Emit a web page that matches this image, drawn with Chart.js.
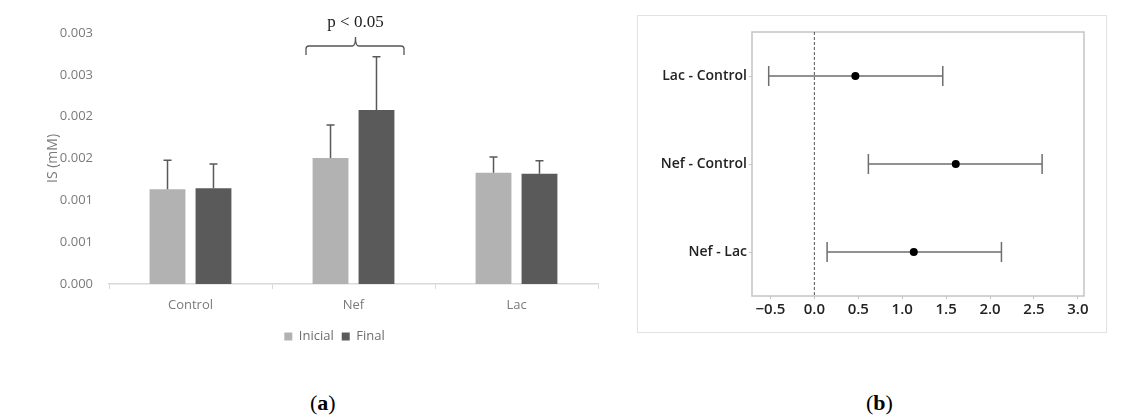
<!DOCTYPE html>
<html>
<head>
<meta charset="utf-8">
<script src="https://cdn.jsdelivr.net/npm/chart.js@4.4.1/dist/chart.umd.min.js"></script>
<style>
  html, body { margin: 0; padding: 0; background: #fff; width: 1130px; height: 417px; overflow: hidden; }
  #left { position: absolute; left: 0; top: 0; width: 610px; height: 360px; }
  #rightBox { position: absolute; left: 637px; top: 15px; width: 468px; height: 316px; border: 1px solid #e2e2e2; }
  #right { position: absolute; left: 0; top: 0; width: 468px; height: 316px; }
  .cap { position: absolute; top: 390px; font-family: "Liberation Serif", "DejaVu Serif", serif; font-size: 22px; line-height: 25px; color: #000; }
</style>
</head>
<body>
<canvas id="left" width="610" height="360"></canvas>
<div id="rightBox"><canvas id="right" width="468" height="316"></canvas></div>
<div class="cap" style="left:310px;">(<b>a</b>)</div>
<div class="cap" style="left:866px;">(<b>b</b>)</div>
<script>
// ---------- Data (a) ----------
const categories = ['Control', 'Nef', 'Lac'];
const inicialValues = [0.001132, 0.001506, 0.001331];
const inicialErrors = [0.000346, 0.000394, 0.000187];
const finalValues = [0.001144, 0.002080, 0.001319];
const finalErrors = [0.000290, 0.000637, 0.000155];
const yTickLabels = ['0.000', '0.001', '0.001', '0.002', '0.002', '0.003', '0.003'];
const significanceText = 'p < 0.05';

// ---------- Data (b) ----------
const comparisons = ['Lac - Control', 'Nef - Control', 'Nef - Lac'];
const diffMeans = [0.467, 1.610, 1.132];
const diffLows = [-0.52, 0.615, 0.145];
const diffHighs = [1.462, 2.593, 2.130];
const xTickValues = [-0.5, 0, 0.5, 1, 1.5, 2, 2.5, 3];

const errorsByDataset = [inicialErrors, finalErrors];

const errorBarPlugin = {
  id: 'errorBars',
  afterDatasetsDraw(chart) {
    const ctx = chart.ctx;
    const ys = chart.scales.y;
    ctx.save();
    ctx.strokeStyle = '#595959';
    ctx.lineWidth = 1.5;
    chart.data.datasets.forEach((ds, di) => {
      const meta = chart.getDatasetMeta(di);
      meta.data.forEach((bar, i) => {
        const v = ds.data[i];
        const e = errorsByDataset[di][i];
        const yTop = ys.getPixelForValue(v + e);
        ctx.beginPath();
        ctx.moveTo(bar.x, bar.y);
        ctx.lineTo(bar.x, yTop);
        ctx.moveTo(bar.x - 4, yTop);
        ctx.lineTo(bar.x + 4, yTop);
        ctx.stroke();
      });
    });
    ctx.restore();
  },
  afterDraw(chart) {
    const ctx = chart.ctx;
    const xs = chart.scales.x;
    const top = chart.chartArea.top;
    const cx = xs.getPixelForValue(1);
    const l = cx - 47.5, r = cx + 50.5, m = cx + 2;
    const yH = top + 13, yEnd = top + 22, yPeak = top + 4;
    ctx.save();
    ctx.strokeStyle = '#555';
    ctx.lineWidth = 1.3;
    ctx.beginPath();
    ctx.moveTo(l, yEnd);
    ctx.lineTo(l, yH + 3);
    ctx.quadraticCurveTo(l, yH, l + 3, yH);
    ctx.lineTo(m - 3, yH);
    ctx.quadraticCurveTo(m, yH, m, yPeak);
    ctx.quadraticCurveTo(m, yH, m + 3, yH);
    ctx.lineTo(r - 3, yH);
    ctx.quadraticCurveTo(r, yH, r, yH + 3);
    ctx.lineTo(r, yEnd);
    ctx.stroke();
    ctx.fillStyle = '#222';
    ctx.font = '17px "Liberation Serif", "DejaVu Serif", serif';
    ctx.textAlign = 'center';
    ctx.textBaseline = 'middle';
    ctx.fillText(significanceText, m, top - 10);
    ctx.restore();
  },
  afterLayout(chart) {
    if (chart.legend) {
      chart.legend.left -= 19;
      chart.legend.right -= 19;
    }
  }
};

new Chart(document.getElementById('left'), {
  type: 'bar',
  data: {
    labels: categories,
    datasets: [
      { label: 'Inicial', data: inicialValues, backgroundColor: '#b2b2b2', categoryPercentage: 0.564, barPercentage: 0.78 },
      { label: 'Final', data: finalValues, backgroundColor: '#5a5a5a', categoryPercentage: 0.564, barPercentage: 0.78 }
    ]
  },
  options: {
    responsive: false,
    animation: false,
    devicePixelRatio: 1,
    layout: { padding: { top: 33, right: 12, left: 0, bottom: 7 } },
    plugins: {
      tooltip: { enabled: false },
      legend: {
        position: 'bottom',
        fullSize: false,
        labels: {
          boxWidth: 8, boxHeight: 8, padding: 8,
          color: '#6e6e6e',
          font: { family: '"Open Sans", sans-serif', size: 13 }
        }
      }
    },
    scales: {
      x: {
        grid: { display: true, drawOnChartArea: false, drawTicks: true, tickLength: 5, color: '#d9d9d9', offset: true },
        border: { display: true, color: '#d9d9d9', width: 1.5 },
        ticks: { color: '#7a7a7a', padding: 8, font: { family: '"Open Sans", sans-serif', size: 13 } },
        afterFit(s) { s.height = 38; }
      },
      y: {
        min: 0, max: 0.003,
        grid: { display: false, drawTicks: false },
        border: { display: false },
        ticks: {
          stepSize: 0.0005,
          padding: 16,
          color: '#7a7a7a',
          font: { family: '"Open Sans", sans-serif', size: 13 },
          callback: (v, i) => yTickLabels[i]
        },
        title: {
          display: true, text: 'IS (mM)', color: '#7a7a7a',
          font: { family: '"Open Sans", sans-serif', size: 14 },
          padding: { top: 45, bottom: 0 }
        },
        afterFit(s) { s.width = 109; }
      }
    }
  },
  plugins: [errorBarPlugin]
});

// ---------- (b) interval plot ----------
const intervalPlugin = {
  id: 'intervals',
  beforeDatasetsDraw(chart) {
    const ctx = chart.ctx;
    const { left, right, top, bottom } = chart.chartArea;
    const xs = chart.scales.x, ys = chart.scales.y;
    ctx.save();
    ctx.strokeStyle = '#c4c4c4';
    ctx.lineWidth = 1.5;
    ctx.strokeRect(left, top, right - left, bottom - top);
    const x0 = xs.getPixelForValue(0);
    ctx.strokeStyle = '#555';
    ctx.lineWidth = 1;
    ctx.setLineDash([3, 2]);
    ctx.beginPath();
    ctx.moveTo(x0, top);
    ctx.lineTo(x0, bottom);
    ctx.stroke();
    ctx.setLineDash([]);
    ctx.strokeStyle = '#6e6e6e';
    ctx.lineWidth = 1.5;
    comparisons.forEach((c, i) => {
      const y = ys.getPixelForValue(i);
      const xl = xs.getPixelForValue(diffLows[i]);
      const xh = xs.getPixelForValue(diffHighs[i]);
      ctx.beginPath();
      ctx.moveTo(xl, y); ctx.lineTo(xh, y);
      ctx.moveTo(xl, y - 10); ctx.lineTo(xl, y + 10);
      ctx.moveTo(xh, y - 10); ctx.lineTo(xh, y + 10);
      ctx.stroke();
    });
    ctx.restore();
  }
};

new Chart(document.getElementById('right'), {
  type: 'scatter',
  data: {
    labels: comparisons,
    datasets: [{
      data: comparisons.map((c, i) => ({ x: diffMeans[i], y: c })),
      backgroundColor: '#000', borderColor: '#000', pointRadius: 4, pointBorderWidth: 0
    }]
  },
  options: {
    responsive: false,
    animation: false,
    devicePixelRatio: 1,
    layout: { padding: { top: 16, right: 22, left: 0, bottom: 0 } },
    plugins: { legend: { display: false }, tooltip: { enabled: false } },
    scales: {
      x: {
        type: 'linear', min: -0.71, max: 3.07,
        afterBuildTicks(s) { s.ticks = xTickValues.map(v => ({ value: v })); },
        grid: { display: true, drawOnChartArea: false, drawTicks: true, tickLength: 3, color: '#c4c4c4' },
        border: { display: false },
        ticks: {
          padding: 2, color: '#222',
          font: { family: '"Open Sans", sans-serif', size: 15, weight: '600' },
          callback: v => v.toFixed(1).replace('-', '\u2212')
        },
        afterFit(s) { s.height = 36; }
      },
      y: {
        type: 'category', labels: comparisons, offset: true,
        grid: { display: true, drawOnChartArea: false, drawTicks: true, tickLength: 3, color: '#c4c4c4', offset: false },
        border: { display: false },
        ticks: {
          padding: 2, color: '#222',
          font: { family: '"Open Sans", sans-serif', size: 14, weight: '600' }
        },
        afterFit(s) { s.width = 114; }
      }
    }
  },
  plugins: [intervalPlugin]
});
</script>
</body>
</html>
